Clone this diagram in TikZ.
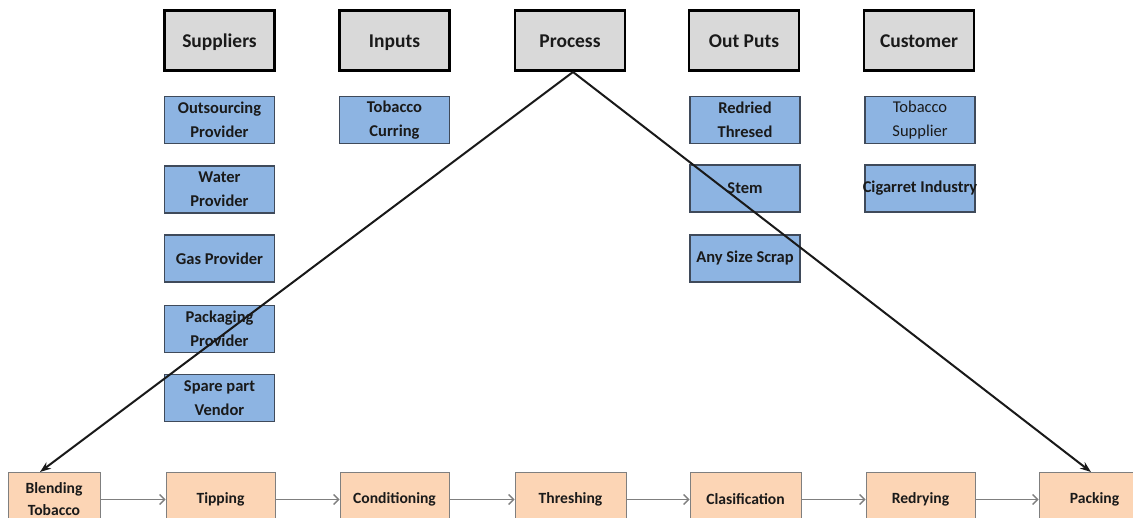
\documentclass[tikz,border=0pt]{standalone}
\usepackage{fontspec}
\setmainfont{Carlito}
\usetikzlibrary{arrows.meta}
\definecolor{hdrfill}{HTML}{D9D9D9}
\definecolor{bluefill}{HTML}{8DB4E2}
\definecolor{blueline}{HTML}{3F4A5A}
\definecolor{orfill}{HTML}{FCD5B5}
\definecolor{orline}{HTML}{7F7F7F}
\definecolor{txt}{HTML}{1A1A1A}
\tikzset{
  hdr/.style={draw=black, line width=2.4pt, fill=hdrfill, minimum width=110pt, minimum height=60pt, inner sep=0pt, text height=14pt, text depth=0pt, text=txt, font=\fontsize{19.5}{23}\selectfont\bfseries},
  bluebox/.style={draw=blueline, line width=1.1pt, fill=bluefill, minimum width=110pt, minimum height=47pt, inner sep=0pt, align=center, text=txt, font=\fontsize{16.5}{24}\selectfont\bfseries},
  orbox/.style={draw=orline, line width=1pt, fill=orfill, minimum height=53pt, inner sep=0pt, align=center, text=txt, font=\fontsize{15.6}{22}\selectfont\bfseries},
  flow/.style={draw=orline, line width=1.4pt, -{Straight Barb[length=5pt,width=10pt]}},
  blk/.style={draw=black!90, line width=2pt, -{Stealth[length=11pt,width=8pt]}}
}
\begin{document}
\begin{tikzpicture}[x=1pt,y=-1pt]
\useasboundingbox (0,0) rectangle (1133,518);
% headers
\node[hdr] (sup) at (219.5,40.5) {Suppliers};
\node[hdr] (inp) at (394.5,40.5) {Inputs};
\node[hdr] (proc) at (570,40.5) {Process};
\node[hdr] (outp) at (744,40.5) {Out Puts};
\node[hdr] (cust) at (919,40.5) {Customer};
% suppliers
\node[bluebox] (s1) at (219.5,120) {Outsourcing\\Provider};
\node[bluebox] (s2) at (219.5,189.5) {Water\\Provider};
\node[bluebox] (s3) at (219.5,258.5) {Gas Provider};
\node[bluebox] (s4) at (219.5,329) {Packaging\\Provider};
\node[bluebox] (s5) at (219.5,398) {Spare part\\Vendor};
% inputs
\node[bluebox] (i1) at (394.5,120) {Tobacco\\Curring};
% outputs
\node[bluebox] (o1) at (745,120) {Redried\\Thresed};
\node[bluebox] (o2) at (745,188.5) {Stem};
\node[bluebox] (o3) at (745,258.5) {Any Size Scrap};
% customers
\node[bluebox, font=\fontsize{16.5}{24}\selectfont] (c1) at (920,120) {Tobacco\\Supplier};
\node[bluebox] (c2) at (920,188.5) {\makebox[0pt]{Cigarret Industry}};
% process chain
\node[orbox, minimum width=92pt] (p1) at (54,499.5) {Blending\\Tobacco};
\node[orbox, minimum width=109pt] (p2) at (220.5,499.5) {Tipping};
\node[orbox, minimum width=109pt] (p3) at (394.5,499.5) {Conditioning};
\node[orbox, minimum width=111pt] (p4) at (570.5,499.5) {Threshing};
\node[orbox, minimum width=111pt] (p5) at (745.5,499.5) {Clasification};
\node[orbox, minimum width=109pt] (p6) at (920.5,499.5) {Redrying};
\node[orbox, minimum width=111pt] (p7) at (1094.5,499.5) {Packing};
\draw[flow] (p1) -- (p2);
\draw[flow] (p2) -- (p3);
\draw[flow] (p3) -- (p4);
\draw[flow] (p4) -- (p5);
\draw[flow] (p5) -- (p6);
\draw[flow] (p6) -- (p7);
% process arrows
\coordinate (pa) at (573,72);
\coordinate (ta) at (40,472);
\coordinate (tb) at (1091,472);
\draw[blk] (pa) -- (ta);
\draw[blk] (pa) -- (tb);
\end{tikzpicture}
\end{document}
